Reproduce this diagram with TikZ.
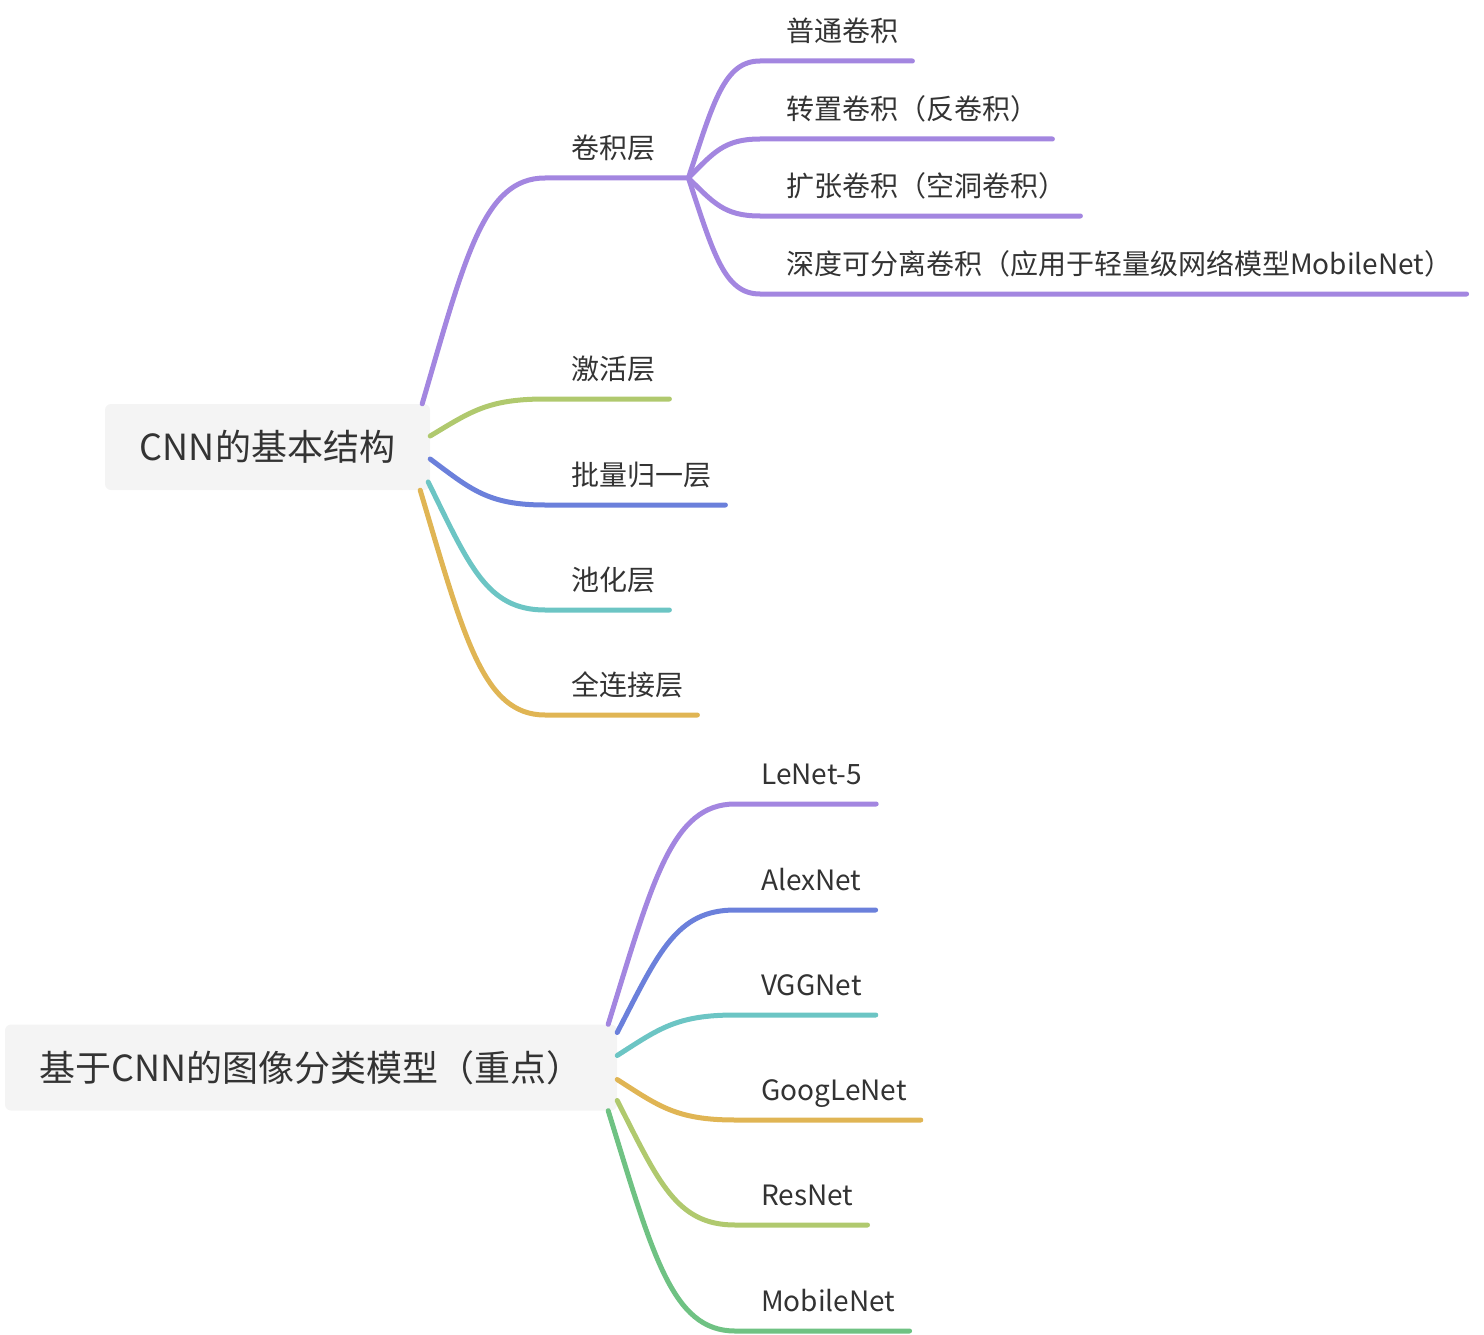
\documentclass[tikz,border=0pt]{standalone}
\usepackage{fontspec}
\setmainfont{Noto Sans CJK SC}
\usepackage{xcolor}
\usepackage{tikz}
\usetikzlibrary{calc}

\definecolor{rootgray}{HTML}{F4F4F4}
\definecolor{textgray}{HTML}{333333}
\definecolor{cpurple}{HTML}{A386E0}
\definecolor{cblue}{HTML}{6B80DB}
\definecolor{cteal}{HTML}{6CC5C4}
\definecolor{cgold}{HTML}{E0B554}
\definecolor{colive}{HTML}{B0C96E}
\definecolor{cgreen}{HTML}{6FC283}

\begin{document}
\begin{tikzpicture}[x=1pt,y=-1pt,
	root/.style={fill=rootgray,rounded corners=6pt,text=textgray,font=\fontsize{36}{40}\selectfont,minimum height=86pt,inner sep=0pt},
	leaf/.style={anchor=south west,inner xsep=0pt,inner ysep=19pt,text depth=0pt,text=textgray,font=\fontsize{28}{32}\selectfont,
		execute at begin node={\hspace*{26pt}},execute at end node={\hspace*{#1}}},
	leaf/.default=14pt,
	branch/.style={line width=5pt,line cap=round,draw=#1,
		to path={let \p1=(\tikztostart),\p2=(\tikztotarget) in
			.. controls ({0.65*\x1+0.35*\x2},{0.35*\y1+0.65*\y2}) and ({0.5*\x1+0.5*\x2},\y2) .. (\tikztotarget) \tikztonodes}}]
	\useasboundingbox (0,0) rectangle (1484,1335);

	% CNN的基本结构
	\node[root,minimum width=325pt] (r1) at (267.5,447) {CNN的基本结构};
	\node[leaf=33pt] (conv) at (545,178) {卷积层};
	\node[leaf] (act) at (545,399) {激活层};
	\node[leaf] (bn) at (545,505) {批量归一层};
	\node[leaf] (pool) at (545,610) {池化层};
	\node[leaf] (fc) at (545,715) {全连接层};
	\node[leaf] (conv1) at (760,61) {普通卷积};
	\node[leaf] (conv2) at (760,139) {转置卷积（反卷积）};
	\node[leaf] (conv3) at (760,216) {扩张卷积（空洞卷积）};
	\node[leaf] (conv4) at (760,294) {深度可分离卷积（应用于轻量级网络模型MobileNet）};

	\draw[branch=cpurple] ([xshift=-8pt]r1.north east) to (conv.south west) -- (conv.south east);
	\draw[branch=colive] ([yshift=11pt]r1.east) to (act.south west) -- (act.south east);
	\draw[branch=cblue] ([yshift=-12pt]r1.east) to (bn.south west) -- (bn.south east);
	\draw[branch=cteal] ([xshift=-2pt,yshift=-35pt]r1.east) to (pool.south west) -- (pool.south east);
	\draw[branch=cgold] ([xshift=-10pt]r1.south east) to (fc.south west) -- (fc.south east);
	\draw[branch=cpurple] (conv.south east) to (conv1.south west) -- (conv1.south east);
	\draw[branch=cpurple] (conv.south east) to (conv2.south west) -- (conv2.south east);
	\draw[branch=cpurple] (conv.south east) to (conv3.south west) -- (conv3.south east);
	\draw[branch=cpurple] (conv.south east) to (conv4.south west) -- (conv4.south east);

	% 基于CNN的图像分类模型
	\node[root,minimum width=612pt] (r2) at (311,1067.5) {基于CNN的图像分类模型（重点）};
	\node[leaf] (lenet) at (735,804) {LeNet-5};
	\node[leaf] (alex) at (735,910) {AlexNet};
	\node[leaf] (vgg) at (735,1015) {VGGNet};
	\node[leaf] (goog) at (735,1120) {GoogLeNet};
	\node[leaf] (res) at (735,1225) {ResNet};
	\node[leaf] (mobile) at (735,1331) {MobileNet};

	\draw[branch=cpurple] ([xshift=-9pt]r2.north east) to (lenet.south west) -- (lenet.south east);
	\draw[branch=cblue] ([yshift=35pt]r2.east) to (alex.south west) -- (alex.south east);
	\draw[branch=cteal] ([yshift=12pt]r2.east) to (vgg.south west) -- (vgg.south east);
	\draw[branch=cgold] ([yshift=-12pt]r2.east) to (goog.south west) -- (goog.south east);
	\draw[branch=colive] ([yshift=-33pt]r2.east) to (res.south west) -- (res.south east);
	\draw[branch=cgreen] ([xshift=-9pt]r2.south east) to (mobile.south west) -- (mobile.south east);
\end{tikzpicture}
\end{document}
